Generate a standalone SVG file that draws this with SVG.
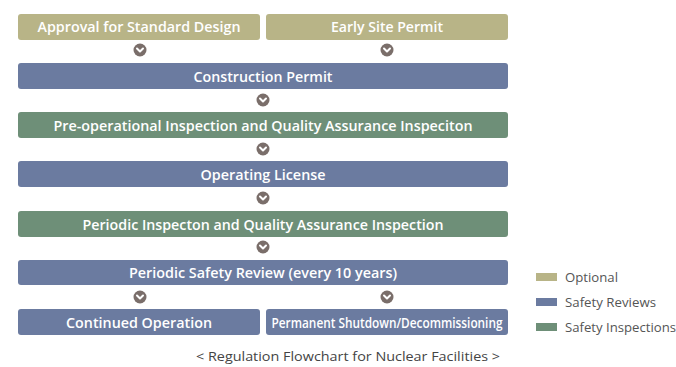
<svg xmlns="http://www.w3.org/2000/svg" width="676" height="367" viewBox="0 0 676 367">
<style>
.opt{fill:#b8b487}
.rev{fill:#6b7ba0}
.ins{fill:#6e8f78}
.lbl{font-family:"Open Sans","Noto Sans",sans-serif;font-weight:600;font-size:14px;fill:#ffffff;text-anchor:middle}
.leg{font-family:"Open Sans","Noto Sans",sans-serif;font-size:13px;fill:#555555}
.cap{font-family:"Open Sans","Noto Sans",sans-serif;font-size:13px;fill:#444444;text-anchor:middle}
</style>
<defs>
<g id="chev">
<circle r="6.5" fill="#7a6e6a"/>
<path d="M-3,-1.5 L0,1.5 L3,-1.5" fill="none" stroke="#ffffff" stroke-width="2" stroke-linecap="round" stroke-linejoin="round"/>
</g>
</defs>
<rect width="676" height="367" fill="#ffffff"/>
<g id="connectors">
<use href="#chev" x="140" y="50"/>
<use href="#chev" x="387" y="50"/>
<use href="#chev" x="263" y="100"/>
<use href="#chev" x="263" y="149"/>
<use href="#chev" x="263" y="198"/>
<use href="#chev" x="263" y="247"/>
<use href="#chev" x="140" y="297"/>
<use href="#chev" x="387" y="297"/>
</g>
<g id="n1"><rect class="opt" x="18" y="14" width="242" height="26" rx="3"/><text class="lbl" x="139" y="32" textLength="203" lengthAdjust="spacingAndGlyphs">Approval for Standard Design</text></g>
<g id="n2"><rect class="opt" x="266" y="14" width="242" height="26" rx="3"/><text class="lbl" x="387" y="32" textLength="112" lengthAdjust="spacingAndGlyphs">Early Site Permit</text></g>
<g id="n3"><rect class="rev" x="18" y="63" width="490" height="26" rx="3"/><text class="lbl" x="263" y="81.5" textLength="139" lengthAdjust="spacingAndGlyphs">Construction Permit</text></g>
<g id="n4"><rect class="ins" x="18" y="112" width="490" height="26" rx="3"/><text class="lbl" x="263" y="130.5" textLength="419" lengthAdjust="spacingAndGlyphs">Pre-operational Inspection and Quality Assurance Inspeciton</text></g>
<g id="n5"><rect class="rev" x="18" y="161" width="490" height="26" rx="3"/><text class="lbl" x="263" y="179.5" textLength="125" lengthAdjust="spacingAndGlyphs">Operating License</text></g>
<g id="n6"><rect class="ins" x="18" y="211" width="490" height="26" rx="3"/><text class="lbl" x="263" y="229.5" textLength="361" lengthAdjust="spacingAndGlyphs">Periodic Inspecton and Quality Assurance Inspection</text></g>
<g id="n7"><rect class="rev" x="18" y="260" width="490" height="25" rx="3"/><text class="lbl" x="263" y="278" textLength="268" lengthAdjust="spacingAndGlyphs">Periodic Safety Review (every 10 years)</text></g>
<g id="n8"><rect class="rev" x="18" y="309" width="242" height="26" rx="3"/><text class="lbl" x="139" y="327.5" textLength="146" lengthAdjust="spacingAndGlyphs">Continued Operation</text></g>
<g id="n9"><rect class="rev" x="266" y="309" width="242" height="26" rx="3"/><text class="lbl" x="387" y="327.5" font-size="13" textLength="231" lengthAdjust="spacingAndGlyphs">Permanent Shutdown/Decommissioning</text></g>
<g id="legend">
<rect class="opt" x="536" y="273" width="21" height="8"/>
<text class="leg" x="565" y="282" textLength="53" lengthAdjust="spacingAndGlyphs">Optional</text>
<rect class="rev" x="536" y="298" width="21" height="8"/>
<text class="leg" x="565" y="307" textLength="91" lengthAdjust="spacingAndGlyphs">Safety Reviews</text>
<rect class="ins" x="536" y="323" width="21" height="8"/>
<text class="leg" x="565" y="332" textLength="111" lengthAdjust="spacingAndGlyphs">Safety Inspections</text>
</g>
<text class="cap" x="348" y="361" textLength="304" lengthAdjust="spacingAndGlyphs">&lt; Regulation Flowchart for Nuclear Facilities &gt;</text>
</svg>
